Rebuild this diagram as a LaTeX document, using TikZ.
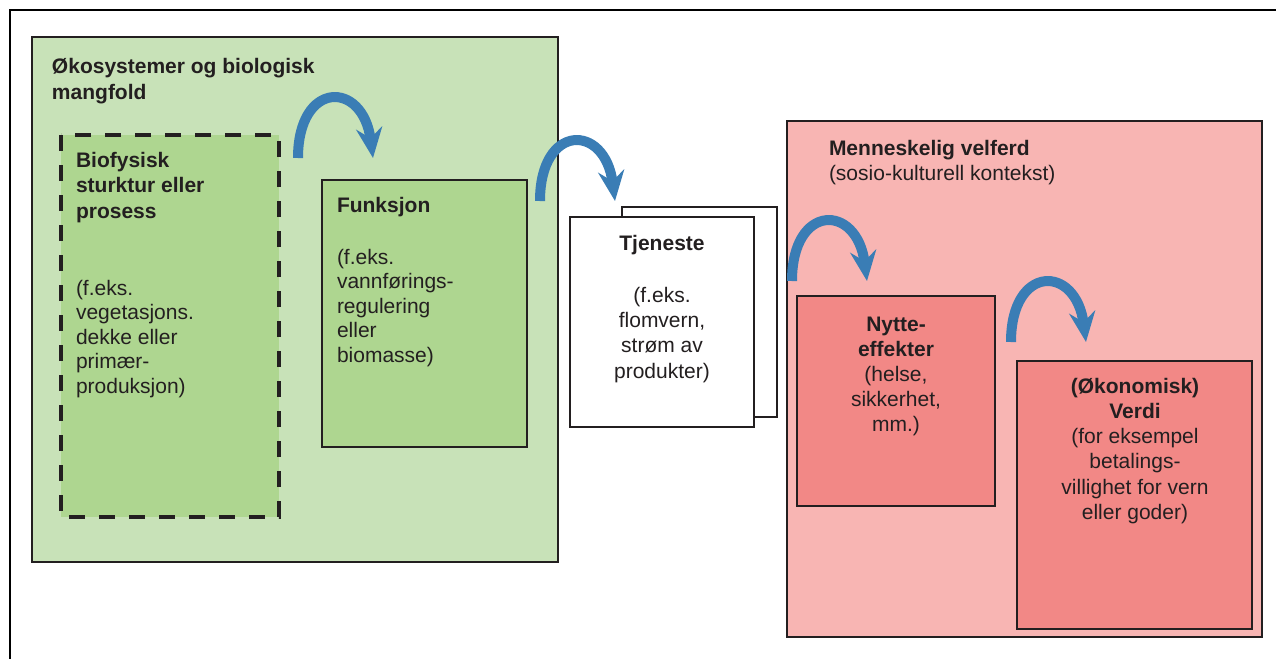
\documentclass[tikz,border=0pt]{standalone}
\usepackage{fontspec}
\setmainfont{Liberation Sans}
\usetikzlibrary{arrows.meta}
\definecolor{outgreen}{RGB}{200,226,184}
\definecolor{ingreen}{RGB}{174,214,144}
\definecolor{outpink}{RGB}{248,181,179}
\definecolor{inpink}{RGB}{242,136,134}
\definecolor{flowblue}{RGB}{58,125,181}
\definecolor{ink}{RGB}{35,31,32}
\begin{document}
\begin{tikzpicture}[x=0.5pt,y=-0.5pt,
  box/.style={draw=ink,line width=1.1pt},
  txt/.style={inner sep=0pt,outer sep=0pt,text=ink,font=\fontsize{10.5}{12.4}\selectfont},
  ltxt/.style={txt,anchor=north west,align=left},
  ctxt/.style={txt,anchor=north,align=center},
  flow/.style={draw=flowblue,line width=5pt,-{Stealth[length=15pt,width=13pt,inset=5pt]}}]
\useasboundingbox (0,0) rectangle (1276,659);
\clip (0,0) rectangle (1276,659);
\fill[white] (0,0) rectangle (1276,659);
% outer frame
\draw[black,line width=1.3pt] (10,700) -- (10,10) -- (1300,10);
% ecosystem
\path[box,fill=outgreen] (32,37) rectangle (558,562);
\fill[ingreen] (61,135) rectangle (279,517);
\draw[ink,line width=2pt,dash pattern=on 8pt off 7pt] (61,135) rectangle (279,517);
\path[box,fill=ingreen] (322,180) rectangle (527,447);
% service
\path[box,fill=white] (622,207) rectangle (777,417);
\path[box,fill=white] (570,217) rectangle (754,427);
% welfare
\path[box,fill=outpink] (787,121) rectangle (1262,637);
\path[box,fill=inpink] (797,296) rectangle (995,506);
\path[box,fill=inpink] (1017,361) rectangle (1252,629);
% texts
\node[ltxt,font=\fontsize{10.5}{13}\selectfont\bfseries] (eco) at (52,58) {Økosystemer og biologisk\\mangfold};
\node[ltxt,font=\fontsize{10.5}{12.75}\selectfont\bfseries] (bio) at (76,152) {Biofysisk\\sturktur eller\\prosess};
\node[ltxt,font=\fontsize{10.5}{12.25}\selectfont] (biotx) at (76,280) {(f.eks.\\vegetasjons.\\dekke eller\\primær-\\produksjon)};
\node[ltxt,font=\fontsize{10.5}{12.25}\selectfont\bfseries] (fun) at (337,197) {Funksjon};
\node[ltxt,font=\fontsize{10.5}{12.25}\selectfont] (funtx) at (337,249) {(f.eks.\\vannførings-\\regulering\\eller\\biomasse)};
\node[ctxt,font=\fontsize{10.5}{12.5}\selectfont\bfseries] (tje) at (662,235) {Tjeneste};
\node[ctxt,font=\fontsize{10.5}{12.65}\selectfont] (tjetx) at (662,287) {(f.eks.\\flomvern,\\strøm av\\produkter)};
\node[ltxt,font=\fontsize{10.5}{12.5}\selectfont] (vel) at (829,140) {\textbf{Menneskelig velferd}\\(sosio-kulturell kontekst)};
\node[ctxt,font=\fontsize{10.5}{12.5}\selectfont] (nyt) at (896,317) {\textbf{Nytte-}\\\textbf{effekter}\\(helse,\\sikkerhet,\\mm.)};
\node[ctxt,font=\fontsize{10.5}{12.6}\selectfont] (ver) at (1135,378) {\textbf{(Økonomisk)}\\\textbf{Verdi}\\(for eksempel\\betalings-\\villighet for vern\\eller goder)};
% flow arrows
\coordinate (a1s) at (298,158); \coordinate (a1e) at (373,158);
\coordinate (a2s) at (540,201); \coordinate (a2e) at (615,201);
\coordinate (a3s) at (792,281); \coordinate (a3e) at (867,281);
\coordinate (a4s) at (1011,342); \coordinate (a4e) at (1086,342);
\foreach \s/\e in {a1s/a1e,a2s/a2e,a3s/a3e,a4s/a4e}
  \draw[flow] (\s) .. controls +(0,-78) and +(-10,-78) .. (\e);
\end{tikzpicture}
\end{document}
